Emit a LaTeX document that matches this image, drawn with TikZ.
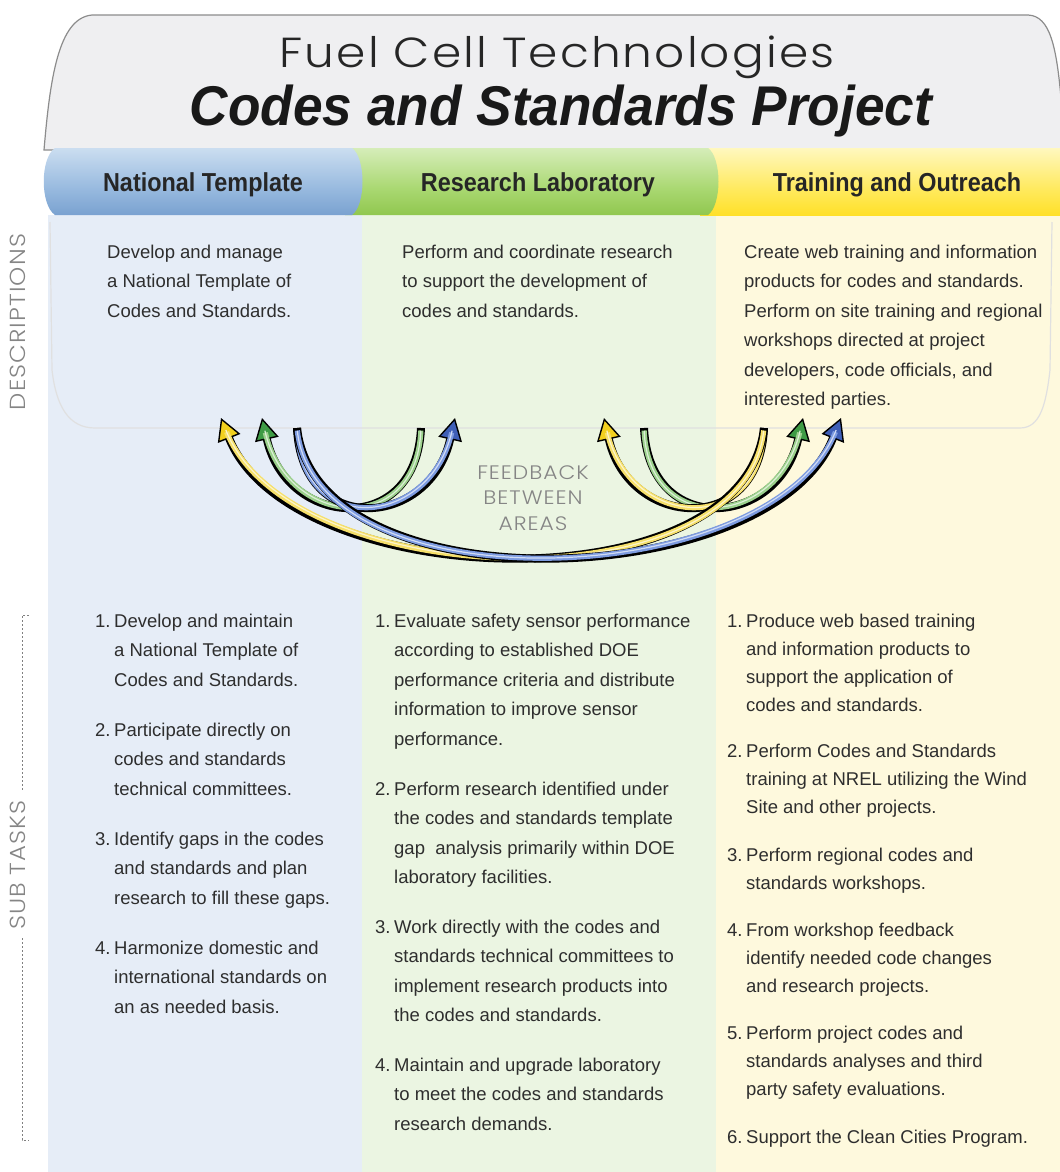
\documentclass[tikz,border=0pt]{standalone}
\usepackage{fontspec}
\setmainfont{Liberation Sans}
\IfFontExistsTF{Poppins Light}{\newfontfamily\thinfont{Poppins Light}[FakeStretch=1.12, LetterSpace=5]}{\newfontfamily\thinfont{Poppins}[FakeStretch=1.12, LetterSpace=5]}
\newfontfamily\narrowfont{Liberation Sans}[FakeStretch=0.9]
\newfontfamily\projectfont{Liberation Sans}[FakeStretch=0.95]
\usetikzlibrary{arrows.meta, positioning}

\definecolor{textgray}{HTML}{2E2E2E}
\definecolor{labelgray}{HTML}{858585}
\definecolor{headgray}{HTML}{EFEFF1}
\definecolor{colblue}{HTML}{E6EDF7}
\definecolor{colgreen}{HTML}{EBF5E2}
\definecolor{colyellow}{HTML}{FEF9DD}
\definecolor{headY}{HTML}{F2D01E}
\definecolor{lineY}{HTML}{F6E06A}
\definecolor{headG}{HTML}{3E9B45}
\definecolor{lineG}{HTML}{9BD08C}
\definecolor{headB}{HTML}{3F5FB7}
\definecolor{lineB}{HTML}{7D9BE0}

% tab shadings, bottom to top
\definecolor{bA}{RGB}{118,158,206}\definecolor{bB}{RGB}{180,205,233}\definecolor{bC}{RGB}{105,148,200}
\definecolor{bD}{RGB}{152,186,223}\definecolor{bE}{RGB}{208,225,242}\definecolor{bF}{RGB}{226,236,247}
\definecolor{bG}{RGB}{130,166,210}
\definecolor{gA}{RGB}{120,182,52}\definecolor{gB}{RGB}{191,224,149}\definecolor{gC}{RGB}{130,190,60}
\definecolor{gD}{RGB}{170,216,114}\definecolor{gE}{RGB}{218,239,192}\definecolor{gF}{RGB}{234,246,219}
\definecolor{gG}{RGB}{150,200,90}
\definecolor{yA}{RGB}{242,206,0}\definecolor{yB}{RGB}{255,240,138}\definecolor{yC}{RGB}{255,219,10}
\definecolor{yD}{RGB}{255,234,96}\definecolor{yE}{RGB}{255,249,200}\definecolor{yF}{RGB}{255,253,230}
\definecolor{yG}{RGB}{247,218,40}
\pgfdeclareverticalshading{bluetab}{100bp}{color(0bp)=(bA); color(7bp)=(bB); color(14bp)=(bC);
  color(45bp)=(bD); color(78bp)=(bE); color(90bp)=(bF); color(100bp)=(bG)}
\pgfdeclareverticalshading{greentab}{100bp}{color(0bp)=(gA); color(7bp)=(gB); color(14bp)=(gC);
  color(45bp)=(gD); color(78bp)=(gE); color(90bp)=(gF); color(100bp)=(gG)}
\pgfdeclareverticalshading{yellowtab}{100bp}{color(0bp)=(yA); color(7bp)=(yB); color(14bp)=(yC);
  color(45bp)=(yD); color(78bp)=(yE); color(90bp)=(yF); color(100bp)=(yG)}

\newcommand{\tasknum}[1]{\makebox[19bp][l]{#1.}}
\newcommand{\taskind}{\hspace*{19bp}}

\begin{document}
\begin{tikzpicture}[x=1bp, y=-1bp,
    % base anchor sits on the last line
    desc/.style={anchor=base west, align=left, inner sep=0pt, text=textgray,
      font=\fontsize{18.5bp}{29.5bp}\selectfont},
    task/.style={desc},
    tasknarrow/.style={desc, font=\fontsize{18.5bp}{28bp}\selectfont},
    tabtext/.style={anchor=base, inner sep=0pt, text=black!85,
      font=\narrowfont\bfseries\fontsize{26bp}{30bp}\selectfont},
    side/.style={rotate=90, inner sep=0pt, text=labelgray,
      font=\thinfont\fontsize{21.8bp}{22bp}\selectfont},
    sideline/.style={draw=black!50, line width=0.9bp, dash pattern=on 2bp off 2bp},
    lens/.style={draw=black!12, line width=1.2bp},
    fb/.style 2 args={draw=black, line width=8bp,
      -{Triangle[length=22bp, width=24bp, fill=#1, line width=1.4bp]},
      postaction={draw=#2, line width=5.2bp, -, shorten >=15bp, shorten <=2.5bp},
      postaction={draw=#2!35!white, line width=1.2bp, -, shorten >=13bp, shorten <=3bp}}]

  \useasboundingbox (0,0) rectangle (1060,1172);

  % columns
  \fill[colblue] (48,215) rectangle (362,1172);
  \fill[colgreen] (362,215) rectangle (716,1172);
  \fill[colyellow] (716,215) rectangle (1060,1172);

  % header
  \filldraw[fill=headgray, draw=black!45, line width=1.2bp]
    (44,150) .. controls (50,80) and (58,18) .. (92,15) -- (1028,15)
    .. controls (1050,16) and (1057,45) .. (1062,110) -- (1062,150) -- cycle;
  \draw[lens] (50,222) -- (52,370) .. controls (56,405) and (68,428) .. (95,428)
    -- (1020,428) .. controls (1040,428) and (1046,405) .. (1050,370) -- (1052,222);

  \node[anchor=base, inner sep=0pt, text=black!85,
    font=\thinfont\fontsize{42bp}{44bp}\selectfont] (title) at (557,67) {Fuel Cell Technologies};
  \node[anchor=base, inner sep=0pt, text=black!90,
    font=\projectfont\bfseries\itshape\fontsize{56bp}{60bp}\selectfont] (project) at (561,125)
    {Codes and Standards Project};

  % tabs
  \shade[shading=yellowtab] (700,148) -- (1062,148) -- (1062,215) -- (700,215) -- cycle;
  \shade[shading=greentab] (345,148) -- (708,148) .. controls (722,158) and (722,205) .. (708,215)
    -- (345,215) -- cycle;
  \shade[shading=bluetab] (55,148) -- (352,148) .. controls (366,158) and (366,205) .. (352,215)
    -- (55,215) .. controls (40,205) and (40,158) .. (55,148) -- cycle;

  \node[tabtext] (ntTab) at (203,191) {National Template};
  \node[tabtext] (rlTab) at (538,191) {Research Laboratory};
  \node[tabtext] (toTab) at (897,191) {Training and Outreach};

  % side labels
  \node[side] (descLab) at (18,322) {DESCRIPTIONS};
  \node[side] (subLab) at (18,865) {SUB TASKS};
  \draw[sideline] (29,615) -- (22,615) -- (22,792);
  \draw[sideline] (22,938) -- (22,1140) -- (29,1140);

  % descriptions
  \node[desc] (ntDesc) at (107,317) {Develop and manage\\a National Template of\\Codes and Standards.};
  \node[desc] (rlDesc) at (402,317) {Perform and coordinate research\\to support the development of\\codes and standards.};
  \node[desc] (toDesc) at (744,405.5) {Create web training and information\\products for codes and standards.\\Perform on site training and regional\\workshops directed at project\\developers, code officials, and\\interested parties.};

  % feedback
  \node[align=center, inner sep=0pt, text=labelgray,
    font=\thinfont\fontsize{19.5bp}{25.5bp}\selectfont] (feedback) at (533,498)
    {FEEDBACK\\BETWEEN\\AREAS};

  \coordinate (ntTail) at (297,428);
  \coordinate (rlTailL) at (421,428);
  \coordinate (rlTailR) at (644,428);
  \coordinate (toTail) at (764,428);
  \coordinate (ntInY) at (221,418);
  \coordinate (ntInG) at (262,418);
  \coordinate (rlInB) at (455,418);
  \coordinate (rlInY) at (604,418);
  \coordinate (toInG) at (803,418);
  \coordinate (toInB) at (841,418);

  \draw[fb={headG}{lineG}] (rlTailL) .. controls +(-5,110) and +(25,110) .. (ntInG);
  \draw[fb={headG}{lineG}] (rlTailR) .. controls +(5,110) and +(-25,110) .. (toInG);
  \draw[fb={headY}{lineY}] (toTail) .. controls +(-5,110) and +(25,110) .. (rlInY);
  \draw[fb={headY}{lineY}] (toTail) .. controls +(-20,180) and +(70,175) .. (ntInY);
  \draw[fb={headB}{lineB}] (ntTail) .. controls +(5,110) and +(-25,110) .. (rlInB);
  \draw[fb={headB}{lineB}] (ntTail) .. controls +(20,180) and +(-70,175) .. (toInB);

  % sub tasks
  \node[task] (nt1) at (95,686) {\tasknum{1}Develop and maintain\\\taskind a National Template of\\\taskind Codes and Standards.};
  \node[task] (nt2) at (95,795) {\tasknum{2}Participate directly on\\\taskind codes and standards\\\taskind technical committees.};
  \node[task] (nt3) at (95,904) {\tasknum{3}Identify gaps in the codes\\\taskind and standards and plan\\\taskind research to fill these gaps.};
  \node[task] (nt4) at (95,1013) {\tasknum{4}Harmonize domestic and\\\taskind international standards on\\\taskind an as needed basis.};

  \node[task] (rl1) at (375,745) {\tasknum{1}Evaluate safety sensor performance\\\taskind according to established DOE\\\taskind performance criteria and distribute\\\taskind information to improve sensor\\\taskind performance.};
  \node[task] (rl2) at (375,883.5) {\tasknum{2}Perform research identified under\\\taskind the codes and standards template\\\taskind gap~ analysis primarily within DOE\\\taskind laboratory facilities.};
  \node[task] (rl3) at (375,1021.5) {\tasknum{3}Work directly with the codes and\\\taskind standards technical committees to\\\taskind implement research products into\\\taskind the codes and standards.};
  \node[task] (rl4) at (375,1130) {\tasknum{4}Maintain and upgrade laboratory\\\taskind to meet the codes and standards\\\taskind research demands.};

  \node[tasknarrow] (to1) at (727,711) {\tasknum{1}Produce web based training\\\taskind and information products to\\\taskind support the application of\\\taskind codes and standards.};
  \node[tasknarrow] (to2) at (727,813) {\tasknum{2}Perform Codes and Standards\\\taskind training at NREL utilizing the Wind\\\taskind Site and other projects.};
  \node[tasknarrow] (to3) at (727,889) {\tasknum{3}Perform regional codes and\\\taskind standards workshops.};
  \node[tasknarrow] (to4) at (727,992) {\tasknum{4}From workshop feedback\\\taskind identify needed code changes\\\taskind and research projects.};
  \node[tasknarrow] (to5) at (727,1095) {\tasknum{5}Perform project codes and\\\taskind standards analyses and third\\\taskind party safety evaluations.};
  \node[tasknarrow] (to6) at (727,1143) {\tasknum{6}Support the Clean Cities Program.};
\end{tikzpicture}
\end{document}
